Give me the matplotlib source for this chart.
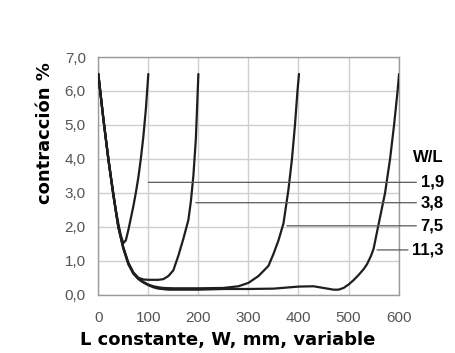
import matplotlib
matplotlib.use("Agg")
import matplotlib.pyplot as plt
from matplotlib.ticker import FuncFormatter

plt.rcParams['font.family'] = ['Liberation Sans', 'DejaVu Sans']

# Shrinkage curves, one per W/L ratio (W in mm, shrinkage in %)
x_19 = [0, 5, 10, 15, 20, 25, 30, 35, 40, 45, 50, 55, 60, 65, 70, 75, 80, 85, 90, 95, 100]
y_19 = [6.5, 5.85, 5.2, 4.6, 4.05, 3.5, 3.0, 2.5, 2.1, 1.75, 1.52, 1.6, 1.9, 2.25, 2.6,
        3.0, 3.45, 4.0, 4.65, 5.45, 6.5]

x_38 = [0, 10, 20, 30, 40, 50, 60, 70, 80, 90, 100, 110, 120, 130, 140, 150, 160, 170,
        180, 185, 190, 195, 200]
y_38 = [6.5, 5.2, 4.0, 2.95, 2.0, 1.4, 0.95, 0.66, 0.5, 0.45, 0.44, 0.44, 0.44, 0.46,
        0.55, 0.72, 1.15, 1.65, 2.2, 2.75, 3.5, 4.6, 6.5]

x_75 = [0, 10, 20, 30, 40, 50, 60, 70, 80, 90, 100, 110, 120, 130, 150, 200, 250, 280,
        300, 320, 340, 350, 360, 370, 380, 387, 393, 398, 401]
y_75 = [6.5, 5.2, 4.0, 2.95, 2.0, 1.38, 0.92, 0.64, 0.48, 0.38, 0.3, 0.25, 0.22, 0.2,
        0.19, 0.19, 0.2, 0.25, 0.35, 0.55, 0.85, 1.2, 1.6, 2.1, 3.1, 4.0, 5.0, 6.0, 6.5]

x_113 = [0, 10, 20, 30, 40, 50, 60, 70, 80, 90, 100, 110, 120, 140, 200, 250, 300, 350,
         400, 430, 450, 470, 480, 490, 500, 510, 520, 530, 537, 545, 550, 559, 566, 573,
         583, 591, 598, 601]
y_113 = [6.5, 5.2, 4.0, 2.95, 2.0, 1.36, 0.9, 0.62, 0.46, 0.36, 0.28, 0.22, 0.18, 0.15,
         0.15, 0.17, 0.17, 0.18, 0.24, 0.25, 0.2, 0.15, 0.15, 0.2, 0.3, 0.43, 0.58, 0.75,
         0.9, 1.15, 1.35, 2.0, 2.5, 3.0, 4.0, 5.0, 6.0, 6.5]

curves = [(x_19, y_19), (x_38, y_38), (x_75, y_75), (x_113, y_113)]

# W/L labels and where their leader lines touch the plot
ratio_labels = ['1,9', '3,8', '7,5', '11,3']
leader_x = [100, 195, 377, 557]
leader_y = [3.31, 2.71, 2.03, 1.32]

fig = plt.figure(figsize=(4.55, 3.53), dpi=100)
ax = fig.add_axes([0.216, 0.165, 0.66, 0.6735])

for xs, ys in curves:
    ax.plot(xs, ys, color='#1e1e1e', lw=1.6, solid_capstyle='round', zorder=3)

ax.set_xlim(0, 600)
ax.set_ylim(0, 7)
ax.set_xticks(range(0, 601, 100))
ax.set_yticks(range(0, 8))
ax.yaxis.set_major_formatter(FuncFormatter(lambda v, p: f'{v:.1f}'.replace('.', ',')))
ax.grid(True, color='#cfcfcf', lw=1.0)
ax.set_axisbelow(True)
for s in ax.spines.values():
    s.set_color('#9a9a9a')
    s.set_linewidth(1.0)
ax.tick_params(length=0, labelsize=11, colors='#555555')
ax.tick_params(axis='x', pad=12)
ax.tick_params(axis='y', pad=9)

# axis titles, set a little off-centre
fig.text(228 / 455, 1 - 340 / 353, 'L constante, W, mm, variable', ha='center', va='center',
         fontsize=13, fontweight='bold', family='DejaVu Sans')
fig.text(45 / 455, 1 - 133 / 353, 'contracción %', ha='center', va='center', rotation=90,
         fontsize=13, fontweight='bold', family='DejaVu Sans')

# W/L labels with leader lines, placed to the right of the axes
label_x = 690
ax.text(label_x, 4.03, 'W/L', ha='right', va='center', fontsize=12, fontweight='bold')
for lab, lx, ly in zip(ratio_labels, leader_x, leader_y):
    ax.annotate(lab, xy=(lx, ly), xytext=(label_x, ly), textcoords='data',
                ha='right', va='center', fontsize=12, fontweight='bold',
                annotation_clip=False,
                arrowprops=dict(arrowstyle='-', color='#5a5a5a', lw=0.9,
                                relpos=(0, 0.5), shrinkA=1, shrinkB=0))

fig.savefig('out.png', dpi=100)
